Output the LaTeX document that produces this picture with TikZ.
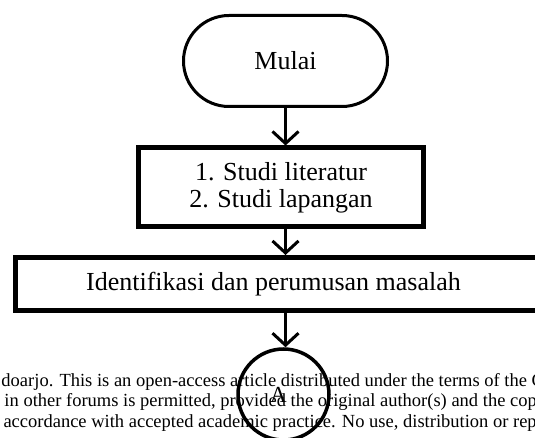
\documentclass[tikz,border=0pt]{standalone}
\usepackage{fontspec}
\setmainfont{Liberation Serif}
\usetikzlibrary{arrows.meta,shapes.misc}

\begin{document}
\begin{tikzpicture}[
    x=1pt, y=-1pt,
    line width=3pt,
    >={Straight Barb[length=12pt,width=26pt]},
    every node/.style={font=\fontsize{26}{27}\selectfont},
    terminal/.style={draw, rounded rectangle, minimum width=204pt, minimum height=91pt, inner sep=0pt},
    prosesbox/.style={draw, rectangle, line width=5pt, inner sep=0pt},
    konektor/.style={draw, circle, line width=3.5pt, minimum size=91pt, inner sep=0pt},
    catatan/.style={anchor=base west, inner sep=0pt, font=\fontsize{18.5}{20}\selectfont}]

    \useasboundingbox (0,0) rectangle (535,438);
    \clip (0,0) rectangle (535,438);

    % teks halaman di belakang
    \node[catatan] (baris1) at (0,386) {doarjo. This is an open-access article distributed under the terms of the C};
    \node[catatan] (baris2) at (3,406.5) {in other forums is permitted, provided the original author(s) and the copy};
    \node[catatan] (baris3) at (2,427.5) {accordance with accepted academic practice. No use, distribution or repr};

    \node[terminal] (mulai) at (285.5,61) {Mulai};
    \node[prosesbox, minimum width=285pt, minimum height=79pt, align=center] (studi) at (281,187.5) {1. Studi literatur\\2. Studi lapangan};
    \node[prosesbox, minimum width=525pt, minimum height=53pt] (identifikasi) at (277.5,284) {Identifikasi dan perumusan masalah\hspace*{8pt}};
    \node[konektor, font=\fontsize{23}{23}\selectfont] (a) at (283.5,394.5) {\raisebox{-3pt}{A}\hspace*{10pt}};

    \draw[->] (mulai.south) -- (mulai.south |- studi.north);
    \draw[->] (mulai.south |- studi.south) -- (mulai.south |- identifikasi.north);
    \draw[->] (mulai.south |- identifikasi.south) -- (mulai.south |- a.north);

\end{tikzpicture}
\end{document}
